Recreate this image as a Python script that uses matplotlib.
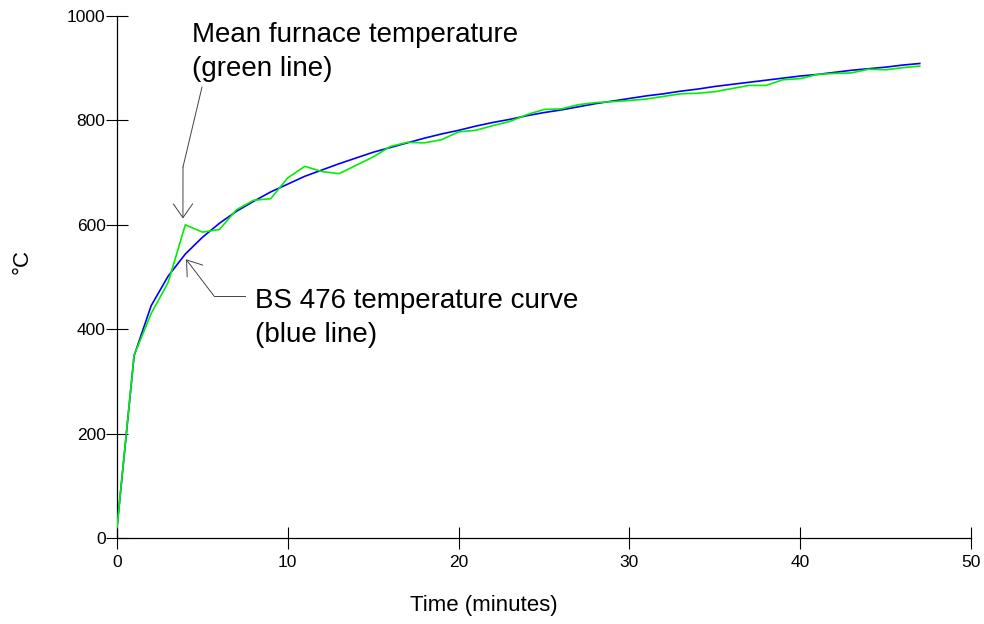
import matplotlib
matplotlib.use("Agg")
import matplotlib.pyplot as plt
from matplotlib.lines import Line2D

plt.rcParams['font.family'] = ['Liberation Sans', 'DejaVu Sans']

# time in minutes
minutes = list(range(0, 48))

# BS 476 standard curve (blue)
bs476 = [20, 349, 445, 502, 544, 576, 603, 626, 645, 663,
         678, 693, 705, 717, 728, 739, 748, 757, 766, 774,
         781, 789, 796, 802, 809, 815, 820, 826, 832, 837,
         842, 847, 851, 856, 860, 865, 869, 873, 877, 881,
         885, 888, 892, 896, 899, 902, 906, 909]

# mean furnace temperature (green)
furnace = [20, 350, 430, 490, 600, 586, 591, 629, 647, 650,
           690, 712, 702, 698, 714, 730, 750, 758, 757, 763,
           778, 781, 790, 798, 811, 821, 822, 830, 834, 836,
           838, 841, 846, 851, 852, 855, 861, 867, 867, 878,
           880, 888, 890, 891, 898, 897, 901, 904]

W, H = 984, 624
fig = plt.figure(figsize=(W / 100, H / 100), dpi=100)
ax = fig.add_axes([117 / W, 1 - 538 / H, 854 / W, 522 / H])

ax.plot(minutes, bs476, color='#0000ff', lw=1.2, zorder=3)
ax.plot(minutes, furnace, color='#00f000', lw=1.2, zorder=4)

ax.set_xlim(0, 50)
ax.set_ylim(0, 1000)
ax.set_xticks(range(0, 51, 10))
ax.set_yticks(range(0, 1001, 200))
for s in ['top', 'right']:
    ax.spines[s].set_visible(False)
for s in ['left', 'bottom']:
    ax.spines[s].set_linewidth(0.9)
ax.tick_params(axis='both', direction='inout', length=16.5, width=0.8, labelsize=12.5)
ax.tick_params(axis='y', pad=0)
ax.tick_params(axis='x', pad=4)

ax.set_xlabel('Time (minutes)', fontsize=16)
ax.xaxis.set_label_coords((484 - 117) / 854, (538 - 606) / 522)
ax.xaxis.label.set_va('center')
ax.set_ylabel('°C', fontsize=16)
ax.yaxis.set_label_coords((22 - 117) / 854, (538 - 262) / 522)
ax.yaxis.label.set_va('center')

def fx(px):
    return px / W

def fy(py):
    return 1 - py / H

# annotation texts
fig.text(fx(192), fy(42), 'Mean furnace temperature', fontsize=20, va='baseline')
fig.text(fx(192), fy(76), '(green line)', fontsize=20, va='baseline')
fig.text(fx(255), fy(308), 'BS 476 temperature curve', fontsize=20, va='baseline')
fig.text(fx(255), fy(342), '(blue line)', fontsize=20, va='baseline')

lc = '#444444'
arrow = dict(arrowstyle='->,head_length=0.5,head_width=0.35',
             color=lc, lw=0.7, mutation_scale=20, shrinkA=0, shrinkB=0)
fig.add_artist(Line2D([fx(202), fx(183)], [fy(87), fy(167)], color=lc, lw=0.7))
ax.annotate('', xy=(3.86, 612), xycoords='data',
            xytext=(fx(183), fy(167)), textcoords='figure fraction',
            arrowprops=arrow)
fig.add_artist(Line2D([fx(245), fx(214)], [fy(296), fy(296)], color=lc, lw=0.7))
ax.annotate('', xy=(4.04, 534), xycoords='data',
            xytext=(fx(214), fy(296)), textcoords='figure fraction',
            arrowprops=arrow)

fig.savefig('out.png', dpi=100)
